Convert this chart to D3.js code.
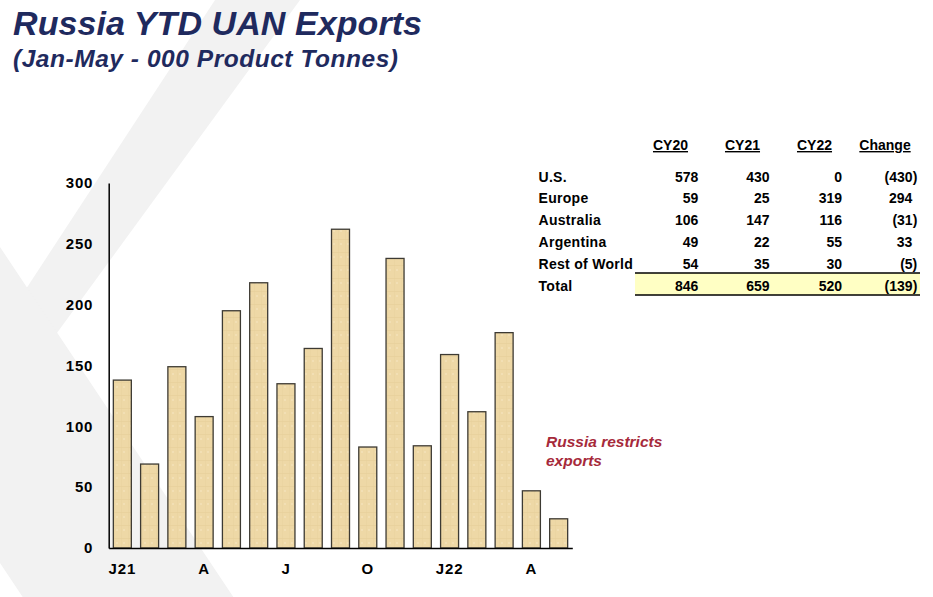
<!DOCTYPE html>
<html>
<head>
<meta charset="utf-8">
<script src="https://cdn.jsdelivr.net/npm/d3@7"></script>
<style>
  html, body { margin: 0; padding: 0; background: #fff; }
  svg { display: block; font-family: "Liberation Sans", Arial, sans-serif; }
</style>
</head>
<body>
<div id="chart"></div>
<script>
// monthly exports, 000 product tonnes
const categories = ['Jan-21', 'Feb-21', 'Mar-21', 'Apr-21', 'May-21', 'Jun-21', 'Jul-21', 'Aug-21', 'Sep-21',
    'Oct-21', 'Nov-21', 'Dec-21', 'Jan-22', 'Feb-22', 'Mar-22', 'Apr-22', 'May-22'];
const exportsKt = [138, 69, 149, 108, 195, 218, 135, 164, 262, 83, 238, 84, 159, 112, 177, 47, 24];
const xTickCats = ['Jan-21', 'Apr-21', 'Jul-21', 'Oct-21', 'Jan-22', 'Apr-22'];
const xTickLabels = ['J21', 'A', 'J', 'O', 'J22', 'A'];
const yTicks = [0, 50, 100, 150, 200, 250, 300];

// YTD table
const tableHeaders = ['CY20', 'CY21', 'CY22', 'Change'];
const regions = ['U.S.', 'Europe', 'Australia', 'Argentina', 'Rest of World', 'Total'];
const cy20 = [578, 59, 106, 49, 54, 846];
const cy21 = [430, 25, 147, 22, 35, 659];
const cy22 = [0, 319, 116, 55, 30, 520];
const change = [-430, 294, -31, 33, -5, -139];

const width = 933, height = 597;

const svg = d3.select('#chart')
    .append('svg')
    .attr('width', width)
    .attr('height', height);

// bar texture, faint paper look
const defs = svg.append('defs');
const pat = defs.append('pattern')
    .attr('id', 'paper')
    .attr('patternUnits', 'userSpaceOnUse')
    .attr('width', 7)
    .attr('height', 13);
pat.append('rect').attr('width', 7).attr('height', 13).attr('fill', '#eed8a6');
pat.append('rect').attr('x', 0).attr('y', 5).attr('width', 7).attr('height', 1).attr('fill', '#e4cc96').attr('opacity', 0.5);
pat.append('rect').attr('x', 2).attr('y', 0).attr('width', 1).attr('height', 13).attr('fill', '#e7cf9c').attr('opacity', 0.4);
pat.append('rect').attr('x', 4).attr('y', 9).attr('width', 2).attr('height', 2).attr('fill', '#f4e3bb').attr('opacity', 0.7);

// watermark chevron in the background
const bg = svg.append('g').attr('fill', '#f2f2f2');
bg.append('polygon').attr('points', '215,0 300,0 -65,500 -112,500');
bg.append('polygon').attr('points', '-100,97 400,847 400,1163 -100,413');

// title
svg.append('text')
    .attr('x', 13).attr('y', 35)
    .attr('textLength', 409)
    .attr('lengthAdjust', 'spacing')
    .attr('font-size', 34)
    .attr('font-weight', 'bold')
    .attr('font-style', 'italic')
    .attr('fill', '#1f2a5e')
    .text('Russia YTD UAN Exports');
svg.append('text')
    .attr('x', 13).attr('y', 67)
    .attr('textLength', 385)
    .attr('lengthAdjust', 'spacing')
    .attr('font-size', 24.5)
    .attr('font-weight', 'bold')
    .attr('font-style', 'italic')
    .attr('fill', '#1f2a5e')
    .text('(Jan-May - 000 Product Tonnes)');

// chart
const x = d3.scaleBand()
    .domain(categories)
    .range([108.7, 572.3])
    .paddingInner(0.34)
    .paddingOuter(0.17);

const y = d3.scaleLinear()
    .domain([0, 300])
    .range([548, 183]);

const g = svg.append('g');

g.selectAll('.bar')
    .data(exportsKt)
    .enter()
    .append('rect')
    .attr('class', 'bar')
    .attr('x', (d, i) => x(categories[i]))
    .attr('y', d => y(d))
    .attr('width', x.bandwidth())
    .attr('height', d => y(0) - y(d))
    .attr('fill', 'url(#paper)')
    .attr('stroke', '#3d3a33')
    .attr('stroke-width', 1.3);

const yAxis = g.append('g')
    .attr('transform', `translate(${x.range()[0]},0)`)
    .call(d3.axisLeft(y).tickValues(yTicks).tickSize(0).tickSizeOuter(0).tickPadding(15.5));

const xAxis = g.append('g')
    .attr('transform', `translate(0,${y(0)})`)
    .call(d3.axisBottom(x)
        .tickValues(xTickCats)
        .tickFormat(d => xTickLabels[xTickCats.indexOf(d)])
        .tickSize(0).tickSizeOuter(0).tickPadding(15));

[yAxis, xAxis].forEach(ax => {
    ax.select('.domain').attr('stroke', '#000').attr('stroke-width', 1.5);
    ax.selectAll('text')
        .attr('font-family', '"Liberation Sans", Arial, sans-serif')
        .attr('font-size', 15)
        .attr('font-weight', 'bold')
        .attr('letter-spacing', 0.8)
        .attr('fill', '#000');
});

// annotation
const note = svg.append('text')
    .attr('font-size', 15.5)
    .attr('font-weight', 'bold')
    .attr('font-style', 'italic')
    .attr('fill', '#a62a3b');
note.append('tspan').attr('x', 546).attr('y', 447).text('Russia restricts');
note.append('tspan').attr('x', 546).attr('y', 465.5).text('exports');

// table
const colCenters = [670.5, 742.5, 814.5, 885];
const colRight = [698.3, 769.5, 842, 917.3];
const rowY = d3.scalePoint().domain(regions).range([181.5, 290.5]);
const tbl = svg.append('g')
    .attr('font-size', 14)
    .attr('font-weight', 'bold')
    .attr('fill', '#000');

tbl.append('rect')
    .attr('x', 635).attr('y', 273)
    .attr('width', 285).attr('height', 22)
    .attr('fill', '#ffffc4');
tbl.append('line')
    .attr('x1', 635).attr('x2', 920).attr('y1', 273).attr('y2', 273)
    .attr('stroke', '#000').attr('stroke-width', 1.3);
tbl.append('line')
    .attr('x1', 635).attr('x2', 920).attr('y1', 295).attr('y2', 295)
    .attr('stroke', '#000').attr('stroke-width', 1.3);

tbl.selectAll('.hdr')
    .data(tableHeaders)
    .enter()
    .append('text')
    .attr('class', 'hdr')
    .attr('x', (d, i) => colCenters[i])
    .attr('y', 150)
    .attr('text-anchor', 'middle')
    .attr('text-decoration', 'underline')
    .text(d => d);

tbl.selectAll('.rlab')
    .data(regions)
    .enter()
    .append('text')
    .attr('class', 'rlab')
    .attr('x', 538.5)
    .attr('y', d => rowY(d))
    .attr('letter-spacing', 0.3)
    .text(d => d);

const fmtChange = v => v < 0 ? `(${Math.abs(v)})` : String(v);
[cy20, cy21, cy22, change].forEach((col, ci) => {
    tbl.selectAll(`.c${ci}`)
        .data(col)
        .enter()
        .append('text')
        .attr('class', `c${ci}`)
        .attr('x', d => ci === 3 && d >= 0 ? colRight[ci] - 5 : colRight[ci])
        .attr('y', (d, i) => rowY(regions[i]))
        .attr('text-anchor', 'end')
        .text(d => ci === 3 ? fmtChange(d) : d);
});
</script>
</body>
</html>
